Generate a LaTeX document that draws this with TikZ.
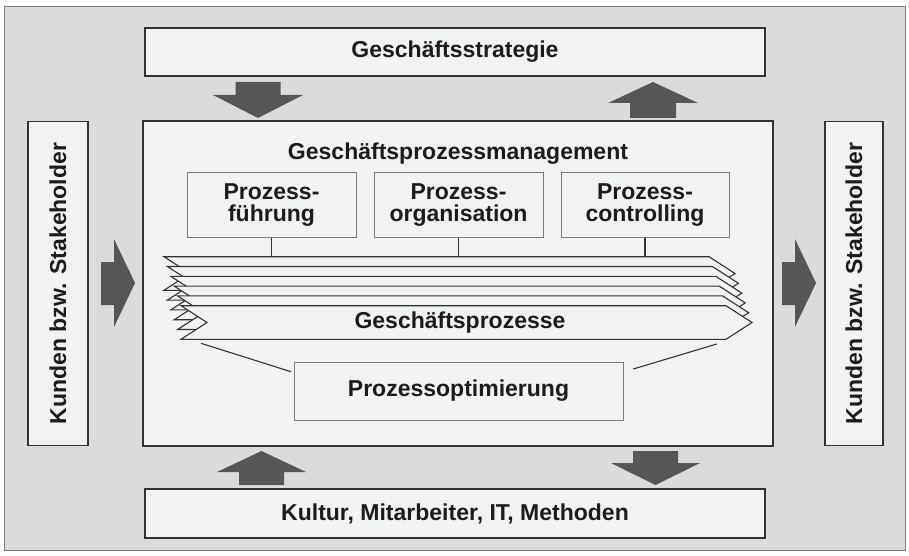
\documentclass[tikz,border=0pt]{standalone}
\usepackage{fontspec}
\setmainfont{Liberation Sans}
\definecolor{bg}{HTML}{DADBDD}
\definecolor{boxfill}{HTML}{F1F2F4}
\definecolor{arrowc}{HTML}{555658}
\definecolor{txt}{HTML}{1E1B1C}
\definecolor{edge}{HTML}{333333}
\definecolor{thin}{HTML}{7C7C7C}
\begin{document}
\begin{tikzpicture}[x=1pt,y=-1pt,
  lbl/.style={font=\bfseries\fontsize{23}{22}\selectfont, text=txt, align=center, inner sep=0pt},
  outerbox/.style={draw=edge, line width=1.6pt, fill=boxfill, inner sep=0pt, lbl},
  innerbox/.style={draw=thin, line width=1pt, fill=boxfill, inner sep=0pt, lbl},
  blockarrow/.style={fill=arrowc, draw=none},
  layer/.style={draw=edge, line width=1.1pt, fill=boxfill, line join=miter},
  link/.style={draw=edge, line width=1.1pt}]
\useasboundingbox (0,0) rectangle (909,556);
\fill[white] (0,0) rectangle (909,556);
\draw[fill=bg, draw=thin, line width=1pt] (4,7) rectangle (905,550);

% outer boxes
\node[outerbox, minimum width=620, minimum height=48] (strat) at (455,52) {Geschäftsstrategie};
\node[outerbox, minimum width=620, minimum height=49] (kult) at (455,513.5) {Kultur, Mitarbeiter, IT, Methoden};
\node[outerbox, minimum width=60, minimum height=324] (kl) at (58,283.5) {};
\node[lbl, rotate=90] (kltext) at (kl.center) {Kunden bzw. Stakeholder};
\node[outerbox, minimum width=58, minimum height=324] (kr) at (854,283.5) {};
\node[lbl, rotate=90] (krtext) at (kr.center) {Kunden bzw. Stakeholder};
\node[outerbox, minimum width=630, minimum height=325] (gpm) at (458,283.5) {};
\node[lbl, anchor=base] (gpmtitle) at (458,160) {Geschäftsprozessmanagement};

% block arrows
\fill[blockarrow] (235.5,82) -- (280.5,82) -- (280.5,95) -- (303,95) -- (258,118) -- (213,95) -- (235.5,95) -- cycle;
\fill[blockarrow] (630,118) -- (676,118) -- (676,103) -- (698,103) -- (653,82) -- (608,103) -- (630,103) -- cycle;
\fill[blockarrow] (101,262) -- (114,262) -- (114,239) -- (135,283) -- (114,327) -- (114,305) -- (101,305) -- cycle;
\fill[blockarrow] (782,262) -- (795,262) -- (795,239) -- (816,283) -- (795,327) -- (795,305) -- (782,305) -- cycle;
\fill[blockarrow] (239,485) -- (284,485) -- (284,472) -- (306,472) -- (261.5,451) -- (217,472) -- (239,472) -- cycle;
\fill[blockarrow] (633,451) -- (678,451) -- (678,463) -- (700,463) -- (655.5,485) -- (611,463) -- (633,463) -- cycle;

% inner boxes
\node[innerbox, minimum width=169, minimum height=64] (pf) at (271.5,205) {Prozess-\\führung};
\node[innerbox, minimum width=169, minimum height=64] (po) at (458.5,205) {Prozess-\\organisation};
\node[innerbox, minimum width=168, minimum height=64] (pc) at (645,205) {Prozess-\\controlling};

% process layers
\foreach \i in {0,...,5}{
  \pgfmathsetmacro{\xa}{164+3.4*\i}
  \pgfmathsetmacro{\ya}{256.7+9.8*\i}
  \draw[layer] (\xa,\ya) -- ({\xa+545},\ya) -- ({\xa+571},{\ya+16.8}) -- ({\xa+545},{\ya+33.6}) -- (\xa,{\ya+33.6}) -- ({\xa+26},{\ya+16.8}) -- cycle;
}
\coordinate (ltop) at (0,256.7);
\node[lbl] (gp) at (460,323) {Geschäftsprozesse};

\draw[link] (pf.south) -- (pf.south |- ltop);
\draw[link] (po.south) -- (po.south |- ltop);
\draw[link] (pc.south) -- (pc.south |- ltop);

% optimisation
\node[innerbox, minimum width=329, minimum height=58] (popt) at (458.5,391) {Prozessoptimierung};
\coordinate (gl) at (201,343.3);
\coordinate (gr) at (716.7,344);
\coordinate (ol) at (291,371.7);
\coordinate (or) at (633.3,369);
\draw[link] (gl) -- (ol);
\draw[link] (gr) -- (or);
\end{tikzpicture}
\end{document}
